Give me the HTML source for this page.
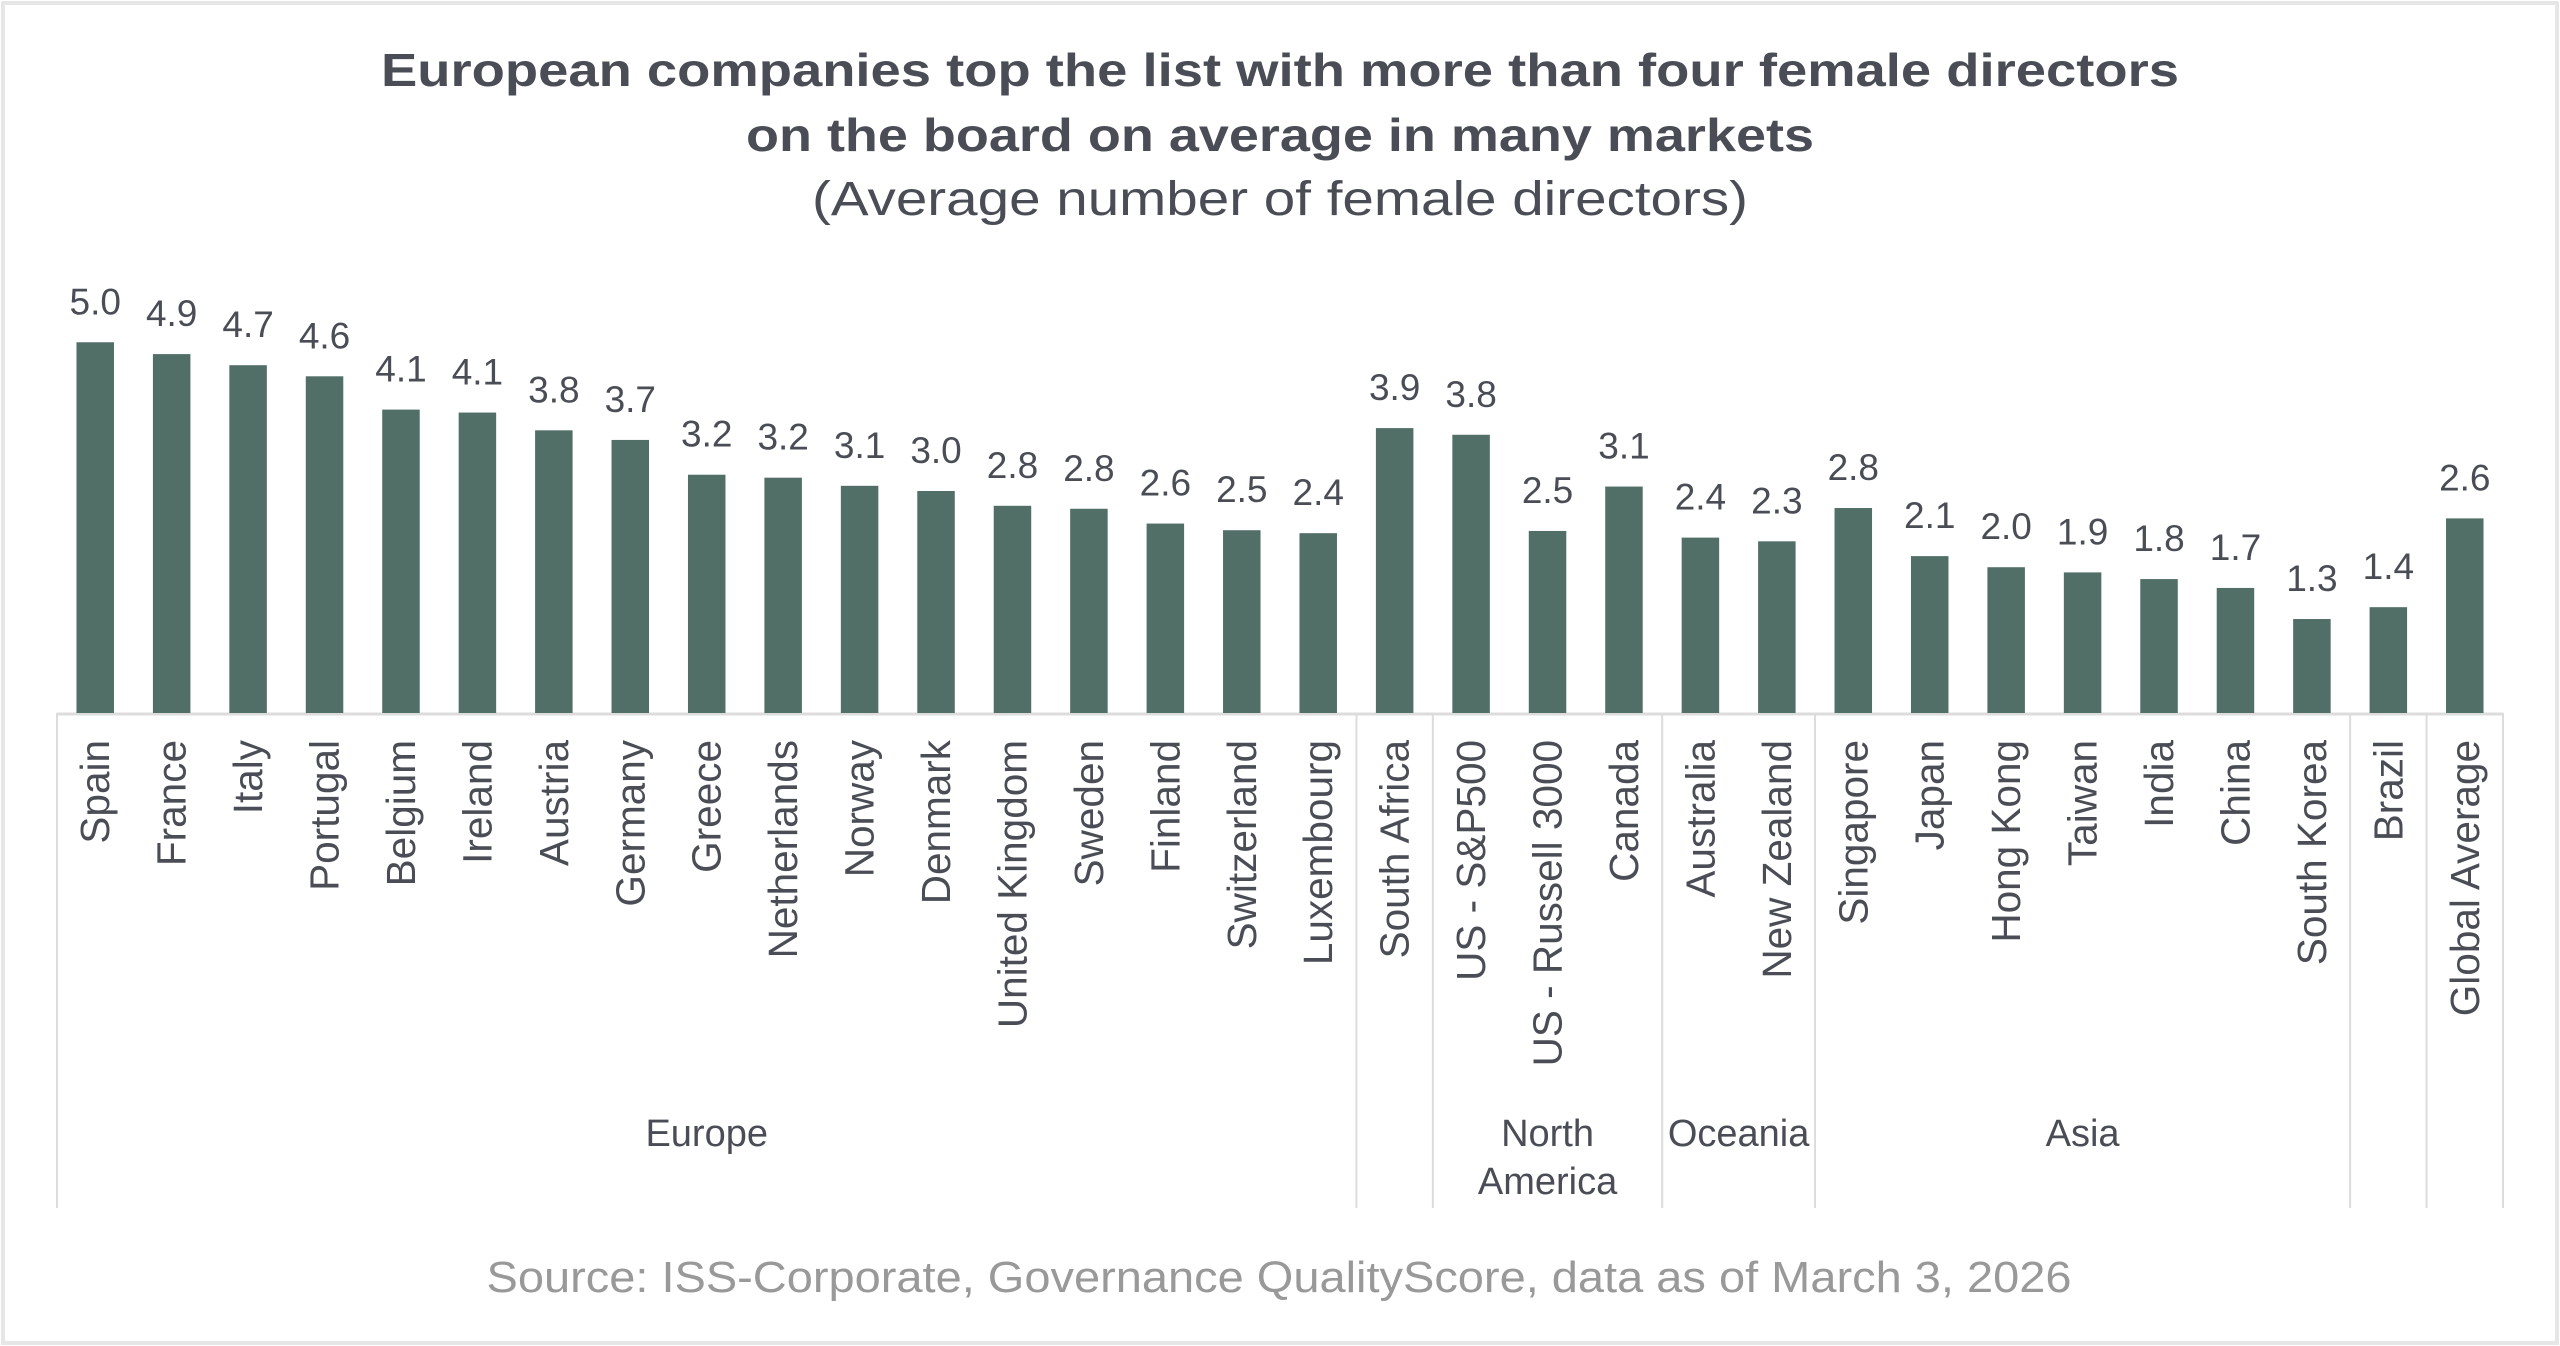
<!DOCTYPE html>
<html><head><meta charset="utf-8">
<style>
html,body{margin:0;padding:0;background:#fff;}
svg{display:block;font-family:"Liberation Sans",sans-serif;}
</style></head>
<body>
<svg id="chart" width="2560" height="1346" viewBox="0 0 2560 1346" xmlns="http://www.w3.org/2000/svg">
<rect x="3" y="3" width="2554" height="1340" fill="#fff" stroke="#e6e6e6" stroke-width="4"/>
<text x="1280" y="86" text-anchor="middle" font-size="46" font-weight="bold" fill="#4a4d55" textLength="1798" lengthAdjust="spacingAndGlyphs">European companies top the list with more than four female directors</text>
<text x="1280" y="151" text-anchor="middle" font-size="46" font-weight="bold" fill="#4a4d55" textLength="1068" lengthAdjust="spacingAndGlyphs">on the board on average in many markets</text>
<text x="1280" y="215" text-anchor="middle" font-size="48" fill="#4a4d55" textLength="936" lengthAdjust="spacingAndGlyphs">(Average number of female directors)</text>
<g id="plot"></g>
<text x="1279" y="1292" text-anchor="middle" font-size="44" fill="#999" textLength="1585" lengthAdjust="spacingAndGlyphs">Source: ISS-Corporate, Governance QualityScore, data as of March 3, 2026</text>
</svg>
<script>
const categories = ["Spain","France","Italy","Portugal","Belgium","Ireland","Austria","Germany","Greece","Netherlands","Norway","Denmark","United Kingdom","Sweden","Finland","Switzerland","Luxembourg","South Africa","US - S&P500","US - Russell 3000","Canada","Australia","New Zealand","Singapore","Japan","Hong Kong","Taiwan","India","China","South Korea","Brazil","Global Average"];
const values = [5.01,4.85,4.70,4.55,4.10,4.06,3.82,3.69,3.22,3.18,3.07,3.0,2.80,2.76,2.56,2.47,2.43,3.85,3.76,2.46,3.06,2.37,2.32,2.77,2.12,1.97,1.90,1.81,1.69,1.27,1.43,2.63];
const valueLabels = ["5.0","4.9","4.7","4.6","4.1","4.1","3.8","3.7","3.2","3.2","3.1","3.0","2.8","2.8","2.6","2.5","2.4","3.9","3.8","2.5","3.1","2.4","2.3","2.8","2.1","2.0","1.9","1.8","1.7","1.3","1.4","2.6"];
const groupNames = [["Europe"],[""],["North","America"],["Oceania"],["Asia"],[""],[""]];
const groupSizes = [17,1,3,2,7,1,1];

const NS="http://www.w3.org/2000/svg";
const g=document.getElementById('plot');
const left=57, right=2503, base=713, unit=74;
const n=categories.length;
const step=(right-left)/n;
function xc(i){return left+step*(i+0.5);}
function y(v){return base-v*unit;}
function mk(t,a){const e=document.createElementNS(NS,t);for(const k in a)e.setAttribute(k,a[k]);g.appendChild(e);return e;}

let axis=mk('line',{x1:left,x2:right,y1:base+1,y2:base+1,stroke:'#dcdcdc','stroke-width':3});



for(let i=0;i<n;i++){
  const bw=37.5;
  const r=mk('rect',{x:xc(i)-bw/2,y:y(values[i]),width:bw,height:values[i]*unit,fill:'#516f67'});
  
  
  const t=mk('text',{x:xc(i),y:y(values[i])-28,'text-anchor':'middle','font-size':37,fill:'#4a4d55'});
  t.textContent=valueLabels[i];
  
  
  const c=mk('text',{transform:`translate(${xc(i)+14},740) rotate(-90)`,'text-anchor':'end','font-size':40.5,fill:'#4a4d55'});
  c.textContent=categories[i];
  
  
}
let idx=0;
for(let gi=0;gi<groupSizes.length;gi++){
  const x0=left+idx*step;
  const l=mk('line',{x1:x0,x2:x0,y1:base,y2:1208,stroke:'#dcdcdc','stroke-width':2});
  
  
  const cx=left+(idx+groupSizes[gi]/2)*step;
  groupNames[gi].forEach((s,k)=>{
    if(!s)return;
    const t=mk('text',{x:cx,y:1146+k*48,'text-anchor':'middle','font-size':38,fill:'#4a4d55'});
    t.textContent=s;
    
    
  });
  idx+=groupSizes[gi];
}
const lr=mk('line',{x1:right,x2:right,y1:base,y2:1208,stroke:'#dcdcdc','stroke-width':2});


</script>
</body></html>
